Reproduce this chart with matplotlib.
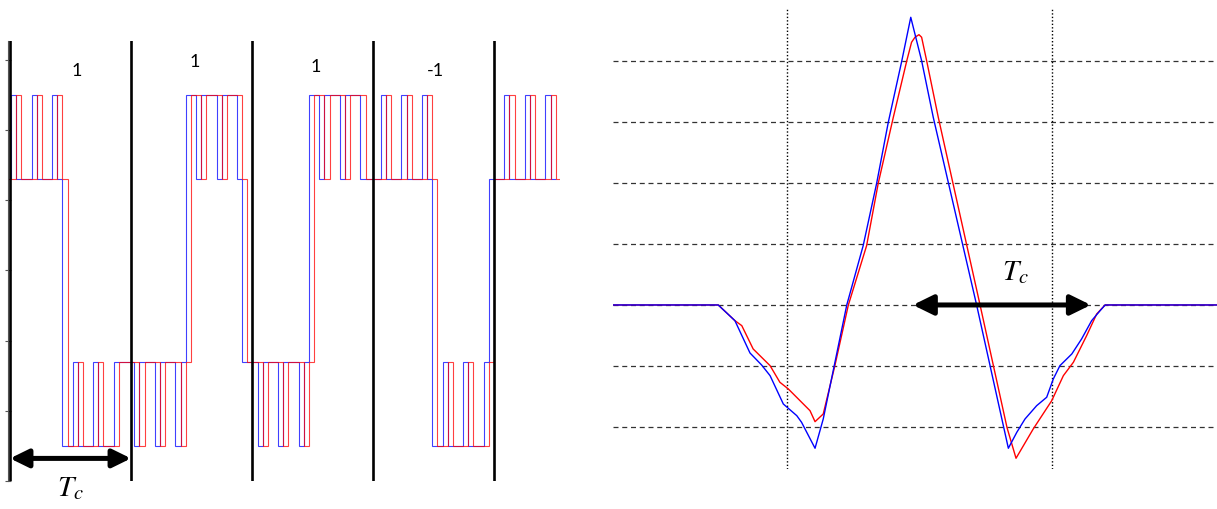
import numpy as np
import matplotlib.pyplot as plt
from matplotlib.patches import FancyArrowPatch

plt.rcParams['mathtext.fontset'] = 'stix'

# ---- left panel: spreading waveforms, time in units of Tc ----
bits = ["1", "1", "1", "-1"]
bit_label_x = [0.554, 1.529, 2.529, 3.512]
bit_label_y = [2.85, 2.99, 2.92, 2.86]
bit_edges = [0, 1, 2, 3, 4]

# quarter-chip levels of the blue waveform (H/h = high/low positive, l/L = low/high negative)
blue_chips = [
    "hh",
    "Hhhh", "Hhhh", "HhLL", "lLLL", "lLLL", "llll",
    "Llll", "Llll", "LlHH", "hHHH", "hHHH", "hlll",
    "Llll", "Llll", "LlHH", "hHHH", "hHHH", "hhhh",
    "Hhhh", "Hhhh", "HhLL", "lLLL", "lLLL", "lhhh",
    "Hhhh", "Hhhh", "Hh",
]
chip_levels = {"H": 2.5, "h": 1.3, "l": -1.3, "L": -2.5}
chip_start = -0.0767
chip_len = 0.04246
red_delay = 0.04246

# ---- right panel: correlation curves ----
lag_blue = [-0.659, -0.261, -0.198, -0.141, -0.097, -0.065, -0.015, 0.036, 0.054, 0.105,
            0.136, 0.225, 0.287, 0.338, 0.382, 0.433, 0.467, 0.508, 0.552, 0.716,
            0.836, 0.868, 0.899, 0.943, 0.981, 1.006, 1.031, 1.076, 1.113, 1.151,
            1.183, 1.202, 1.625]
corr_blue = [0, 0, -0.257, -0.787, -0.984, -1.159, -1.623, -1.815, -1.923, -2.349,
             -1.869, 0.0, 0.972, 1.995, 2.995, 4.0, 4.716, 4.005, 3.077, 0.0,
             -2.349, -2.087, -1.869, -1.651, -1.513, -1.213, -0.995, -0.803, -0.557, -0.257,
             -0.093, 0, 0]
lag_red = [-0.659, -0.261, -0.198, -0.172, -0.129, -0.065, -0.028, 0.004, 0.086, 0.105,
           0.136, 0.180, 0.231, 0.300, 0.344, 0.401, 0.452, 0.470, 0.483, 0.498,
           0.508, 0.527, 0.571, 0.729, 0.831, 0.865, 0.930, 1.000, 1.044, 1.082,
           1.132, 1.170, 1.202, 1.625]
corr_red = [0, 0, -0.257, -0.339, -0.721, -0.995, -1.267, -1.377, -1.733, -1.913,
            -1.787, -0.995, 0.0, 0.972, 1.995, 3.077, 4.005, 4.307, 4.389, 4.431,
            4.389, 4.005, 3.077, 0.0, -2.011, -2.513, -2.033, -1.569, -1.159, -0.939,
            -0.503, -0.148, 0, 0]
grid_y = [-2, -1, 0, 1, 2, 3, 4]
grid_x = [0, 1]
tc_arrow_right = (0.475, 1.148)


def tc_arrow(ax, x0, x1, y, scale):
    arr = FancyArrowPatch((x0, y), (x1, y), arrowstyle="<|-|>,head_length=0.55,head_width=0.27",
                          mutation_scale=scale, lw=3.6, color="black",
                          shrinkA=0, shrinkB=0, clip_on=False, zorder=5)
    ax.add_patch(arr)


fig = plt.figure(figsize=(12.17, 5.10), dpi=100)

# left panel
ax1 = fig.add_axes([8 / 1217, 28 / 510, 552 / 1217, 440 / 510])
levels = [chip_levels[c] for c in "".join(blue_chips)]
edges = chip_start + chip_len * np.arange(len(levels) + 1)
ax1.stairs(levels, edges, baseline=None, color="blue", lw=0.8, alpha=0.75)
ax1.stairs(levels, edges + red_delay, baseline=None, color="red", lw=0.8, alpha=0.75)
for b in bit_edges:
    ax1.axvline(b, color="black", lw=1.9, zorder=4)
for lab, x, y in zip(bits, bit_label_x, bit_label_y):
    ax1.text(x, y, lab, ha="center", va="center", fontsize=13, family="Lato")
tc_arrow(ax1, 0, 1, -2.678, 20)
ax1.text(0.496, -3.08, r"$T_c$", ha="center", va="center", fontsize=21, clip_on=False)
ax1.set_xlim(-0.0165, 4.545)
ax1.set_ylim(-2.89, 3.27)
ax1.set_yticks(range(-3, 4))
ax1.set_yticklabels([])
ax1.set_xticks([])
ax1.tick_params(axis="y", direction="inout", length=4, width=0.8, color="#555555")
for s in ["top", "right", "bottom"]:
    ax1.spines[s].set_visible(False)
ax1.spines["left"].set_color("#555555")
ax1.spines["left"].set_linewidth(0.8)

# right panel
ax2 = fig.add_axes([613 / 1217, 40 / 510, 604 / 1217, 460 / 510])
for y in grid_y:
    ax2.axhline(y, color="#333333", lw=0.9, ls=(0, (4, 3)), zorder=1)
for x in grid_x:
    ax2.axvline(x, color="black", lw=1.0, ls=(0, (1, 1.5)), zorder=1)
ax2.plot(lag_red, corr_red, color="red", lw=1.0, zorder=2)
ax2.plot(lag_blue, corr_blue, color="blue", lw=1.0, zorder=3)
tc_arrow(ax2, tc_arrow_right[0], tc_arrow_right[1], 0, 22)
ax2.text(0.861, 0.557, r"$T_c$", ha="center", va="center", fontsize=21)
ax2.set_xlim(-0.659, 1.625)
ax2.set_ylim(-2.689, 4.852)
ax2.axis("off")

fig.savefig("out.png", dpi=100)
